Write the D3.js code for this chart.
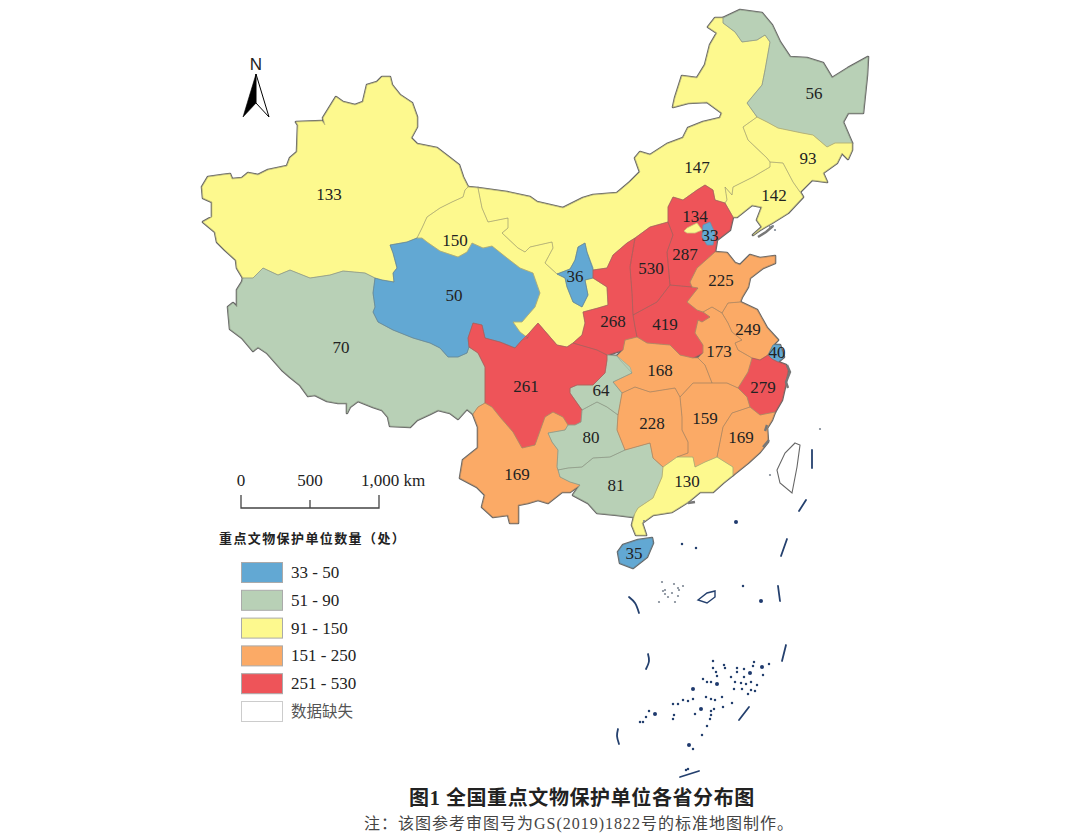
<!DOCTYPE html>
<html>
<head>
<meta charset="utf-8">
<title>全国重点文物保护单位各省分布图</title>
<script src="https://cdn.jsdelivr.net/npm/d3@7"></script>
<style>
  html, body { margin: 0; background: #fff; }
  svg { display: block; }
  text { font-family: "Liberation Serif", "Noto Sans CJK SC", serif; fill: #222; }
</style>
</head>
<body>
<div id="chart"></div>
<script>
// values per province
const provinceNames = ['新疆', '西藏', '青海', '甘肃', '内蒙古', '宁夏', '黑龙江', '吉林', '辽宁', '河北', '北京', '天津', '山西', '陕西', '河南', '山东', '江苏', '上海', '浙江', '安徽', '湖北', '重庆', '四川', '云南', '贵州', '广西', '湖南', '江西', '福建', '广东', '海南'];
const provinceValues = [133, 70, 50, 150, 147, 36, 56, 93, 142, 287, 134, 33, 530, 268, 419, 225, 249, 40, 279, 173, 168, 64, 261, 169, 80, 81, 228, 159, 169, 130, 35];

// legend classes
const classBreaks = [51, 91, 151, 251];
const classColors = ['#62a8d3', '#b8d0b6', '#fdf98e', '#fbaa66', '#ee5459'];
const classLabels = ['33 - 50', '51 - 90', '91 - 150', '151 - 250', '251 - 530', '数据缺失'];

const scaleBarTicks = [0, 500, 1000];

const xinjiang = [[382,77],[390,77],[392,85],[400,95],[412,103],[417,117],[417,127],[411,138],[417,144],[437,148],[450,158],[459,165],[463,177],[468,187],[465,190],[463,197],[452,202],[440,208],[427,217],[422,228],[417,238],[407,242],[390,245],[393,253],[397,268],[393,273],[394,282],[382,280],[375,278],[365,273],[343,271],[330,275],[310,278],[290,270],[278,275],[263,268],[253,278],[243,278],[237,268],[236,260],[225,250],[217,242],[215,232],[203,222],[212,217],[212,202],[203,198],[202,187],[208,177],[222,175],[230,174],[232,179],[242,178],[248,173],[258,175],[268,170],[287,166],[290,158],[297,152],[298,125],[296,122],[322,121],[325,125],[323,118],[336,97],[343,102],[355,105],[363,102],[367,85],[377,82]];
const xizang = [[243,278],[253,278],[263,268],[278,275],[290,270],[310,278],[330,275],[343,271],[365,273],[375,278],[373,293],[375,307],[373,312],[378,322],[393,330],[413,338],[430,343],[440,348],[448,357],[458,357],[467,353],[469,347],[478,353],[485,367],[485,403],[478,407],[473,414],[467,409],[458,419],[450,413],[438,410],[430,414],[417,420],[410,427],[390,426],[388,417],[382,410],[373,407],[358,401],[350,407],[347,413],[347,403],[338,403],[327,401],[315,395],[308,396],[300,385],[290,377],[282,370],[267,353],[258,347],[253,351],[242,338],[230,329],[228,307],[233,303],[237,307],[237,290],[242,282]];
const qinghai = [[390,245],[407,242],[417,238],[422,238],[427,242],[440,251],[458,257],[467,252],[472,243],[483,248],[492,246],[507,258],[520,268],[533,273],[540,293],[535,307],[528,315],[522,322],[513,322],[520,332],[528,338],[522,340],[515,348],[500,342],[485,338],[482,325],[473,323],[468,338],[469,347],[467,353],[458,357],[448,357],[440,348],[430,343],[413,338],[393,330],[378,322],[373,312],[375,307],[373,293],[375,278],[382,280],[394,282],[393,273],[397,268],[393,253]];
const gansu = [[468,187],[478,188],[482,208],[488,222],[508,218],[508,228],[502,233],[518,248],[525,252],[530,247],[552,242],[553,248],[545,263],[557,274],[565,278],[567,287],[573,302],[582,307],[588,295],[585,280],[593,278],[607,287],[608,305],[598,308],[583,312],[585,323],[582,335],[573,343],[567,347],[557,345],[538,323],[530,332],[528,338],[520,332],[513,322],[522,322],[528,315],[535,307],[540,293],[533,273],[520,268],[507,258],[492,246],[483,248],[472,243],[467,252],[458,257],[440,251],[427,242],[422,238],[417,238],[422,228],[427,217],[440,208],[452,202],[463,197],[465,190]];
const neimenggu = [[478,188],[507,192],[530,197],[537,202],[563,208],[583,198],[593,195],[617,193],[630,182],[640,172],[635,158],[640,152],[650,155],[667,144],[683,138],[688,128],[703,122],[720,118],[722,113],[707,102],[688,103],[673,107],[675,98],[682,76],[697,78],[705,65],[710,45],[717,33],[708,27],[715,18],[723,18],[723,23],[735,32],[742,42],[757,40],[765,35],[770,42],[765,70],[762,85],[747,103],[757,117],[743,127],[748,140],[767,158],[770,162],[770,167],[753,177],[733,187],[732,195],[725,187],[727,200],[725,203],[715,200],[713,190],[705,185],[697,190],[683,200],[673,197],[668,207],[668,222],[650,227],[635,238],[627,243],[613,255],[607,268],[593,270],[587,252],[585,243],[578,247],[575,260],[570,269],[557,274],[545,263],[553,248],[552,242],[530,247],[525,252],[518,248],[502,233],[508,228],[508,218],[488,222],[482,208]];
const ningxia = [[557,274],[570,269],[575,260],[578,247],[585,243],[587,252],[593,268],[593,278],[585,280],[588,295],[582,307],[573,302],[567,287],[565,278]];
const heilongjiang = [[723,18],[740,10],[762,13],[772,25],[780,42],[790,57],[807,58],[823,63],[832,78],[848,68],[868,57],[867,75],[863,113],[848,113],[843,122],[852,143],[835,143],[827,147],[813,135],[802,133],[778,128],[767,122],[757,117],[747,103],[762,85],[765,70],[770,42],[765,35],[757,40],[742,42],[735,32],[723,23]];
const jilin = [[757,117],[767,122],[778,128],[802,133],[813,135],[827,147],[835,143],[852,143],[852,150],[848,159],[842,153],[837,163],[823,173],[827,182],[812,180],[800,192],[793,182],[783,163],[770,162],[767,158],[748,140],[743,127]];
const liaoning = [[770,162],[783,163],[793,182],[800,192],[803,197],[788,213],[772,223],[760,230],[753,235],[762,227],[757,220],[762,207],[752,205],[737,217],[733,217],[725,203],[727,200],[725,187],[732,195],[733,187],[753,177],[770,167]];
const hebei = [[668,222],[668,207],[673,197],[683,200],[697,190],[705,185],[713,190],[715,200],[725,203],[733,217],[730,230],[717,240],[715,252],[697,268],[690,282],[692,287],[670,285],[667,252],[673,235]];
const beijing = [[687,228],[697,223],[702,230],[695,233],[687,233],[684,231]];
const tianjin = [[703,225],[710,222],[715,233],[713,245],[707,245],[702,237]];
const shanxi = [[650,227],[668,222],[673,235],[667,252],[670,285],[657,302],[633,315],[632,293],[630,267],[635,238]];
const shaanxi = [[593,270],[607,268],[613,255],[627,243],[635,238],[630,267],[632,293],[633,315],[635,327],[637,337],[625,340],[623,350],[607,355],[597,350],[573,343],[582,335],[585,323],[583,312],[598,308],[608,305],[607,287],[593,278]];
const henan = [[633,315],[657,302],[670,285],[692,287],[698,288],[687,302],[697,310],[703,312],[710,317],[702,322],[698,320],[695,333],[703,345],[703,353],[693,358],[680,355],[670,345],[647,343],[637,337],[635,327]];
const shandong = [[715,252],[727,253],[735,263],[740,265],[750,255],[760,258],[775,256],[775,263],[763,268],[750,278],[748,287],[742,297],[740,302],[728,303],[722,313],[712,307],[703,312],[697,310],[687,302],[698,288],[692,287],[690,282],[697,268]];
const jiangsu = [[740,302],[757,310],[767,328],[778,340],[773,345],[768,355],[760,360],[752,358],[738,350],[735,343],[742,340],[732,332],[728,323],[722,313],[728,303]];
const shanghai = [[773,345],[780,345],[784,357],[778,362],[772,359],[768,355]];
const zhejiang = [[752,358],[760,360],[768,355],[772,359],[778,362],[786,365],[788,370],[785,387],[782,400],[775,412],[760,415],[750,407],[747,397],[738,388],[748,372]];
const anhui = [[712,307],[722,313],[728,323],[732,332],[742,340],[735,343],[738,350],[752,358],[748,372],[738,388],[727,383],[712,383],[705,365],[698,358],[703,353],[703,345],[695,333],[698,320],[702,322],[710,317],[703,312]];
const hubei = [[637,337],[647,343],[670,345],[680,355],[693,358],[698,358],[705,365],[712,383],[693,383],[680,397],[675,388],[650,392],[635,387],[622,393],[613,382],[632,373],[620,360],[617,356],[623,350],[625,340]];
const chongqing = [[607,355],[617,356],[630,367],[632,373],[613,382],[622,393],[618,415],[607,407],[597,402],[582,410],[570,393],[570,388],[577,385],[593,385],[605,373],[607,360]];
const sichuan = [[469,347],[468,338],[473,323],[482,325],[485,338],[500,342],[515,348],[522,340],[530,332],[538,323],[557,345],[567,347],[573,343],[597,350],[607,355],[607,360],[605,373],[593,385],[577,385],[570,388],[570,393],[582,410],[581,422],[575,425],[568,425],[563,417],[553,412],[545,417],[535,445],[522,448],[513,432],[500,417],[492,407],[485,403],[485,367],[478,353]];
const yunnan = [[485,403],[492,407],[500,417],[513,432],[522,448],[535,445],[545,417],[553,412],[563,417],[568,425],[565,430],[548,433],[552,442],[558,450],[557,467],[558,470],[560,477],[570,482],[580,485],[570,492],[562,492],[548,503],[538,500],[528,503],[518,505],[518,523],[510,523],[508,515],[493,517],[482,507],[485,495],[477,487],[460,478],[463,460],[478,448],[478,427],[473,414],[478,407]];
const guizhou = [[548,433],[565,430],[568,425],[575,425],[581,422],[582,410],[597,402],[607,407],[618,415],[617,430],[625,450],[610,457],[593,458],[582,467],[568,468],[558,470],[557,467],[558,450],[552,442]];
const guangxi = [[558,470],[568,468],[582,467],[593,458],[610,457],[625,450],[650,443],[653,458],[663,467],[662,477],[653,498],[638,508],[633,517],[617,515],[597,513],[588,503],[573,495],[580,485],[570,482],[560,477]];
const hunan = [[622,393],[635,387],[650,392],[675,388],[680,397],[682,417],[682,430],[688,442],[688,453],[677,457],[670,462],[663,467],[653,458],[650,443],[625,450],[617,430],[618,415]];
const jiangxi = [[680,397],[693,383],[712,383],[727,383],[738,388],[747,397],[750,407],[732,413],[723,427],[717,457],[705,462],[695,467],[693,457],[677,457],[688,453],[688,442],[682,430],[682,417]];
const fujian = [[750,407],[760,415],[775,412],[772,420],[767,428],[768,442],[760,452],[748,463],[733,475],[733,467],[717,457],[723,427],[732,413]];
const guangdong = [[663,467],[670,462],[677,457],[693,457],[695,467],[705,462],[717,457],[733,467],[733,475],[723,483],[713,492],[700,492],[688,502],[672,512],[653,515],[642,523],[646,535],[636,535],[632,525],[635,513],[638,508],[653,498],[662,477]];
const hainan = [[618,552],[623,545],[638,540],[652,538],[653,543],[647,557],[633,568],[620,563]];
const provinceShapes = [xinjiang, xizang, qinghai, gansu, neimenggu, ningxia, heilongjiang, jilin, liaoning, hebei, beijing, tianjin, shanxi, shaanxi, henan, shandong, jiangsu, shanghai, zhejiang, anhui, hubei, chongqing, sichuan, yunnan, guizhou, guangxi, hunan, jiangxi, fujian, guangdong, hainan];
const labelPoints = [[329,194],[341,347],[454,295],[455,240],[697,167],[575,276],[814,93],[808,158],[774,195],[685,254],[695,216],[710,235],[651,268],[613,321],[665,324],[721,280],[748,329],[777,352],[763,387],[719,351],[660,370],[601,390],[526,386],[517,474],[591,437],[616,485],[652,423],[705,418],[741,437],[687,481],[634,553]];

// no data areas
const taiwan = [[795,443],[800,445],[797,467],[792,493],[780,483],[777,470],[785,453]];
const zhongshaIsland = [[698,600],[707,593],[715,591],[715,597],[707,603]];

// nine dash line and the islands of the south sea
const dashLines = [[[629,597],[635,603],[639,613]],[[648,654],[649,661],[646,669]],[[618,729],[617,736],[619,744]],[[680,777],[699,771]],[[739,720],[749,707]],[[782,661],[786,645]],[[780,601],[778,586]],[[781,556],[787,539]],[[799,511],[806,500]],[[812,450],[812,468]]];
const bigIslands = [[736,522],[761,601],[762,667],[717,684],[689,745],[750,673],[693,689],[655,714],[701,709]];
const smallIslands = [[682,544],[696,548],[743,586],[713,661],[724,665],[713,668],[716,672],[725,668],[754,662],[753,666],[769,664],[737,668],[737,672],[744,669],[763,675],[731,677],[744,677],[735,682],[741,683],[751,682],[746,684],[757,685],[734,689],[742,689],[751,690],[755,691],[748,694],[717,676],[707,682],[711,682],[703,679],[706,697],[711,699],[715,700],[722,697],[732,703],[723,707],[714,709],[711,711],[695,714],[693,699],[688,701],[683,700],[678,704],[673,704],[674,715],[673,719],[649,711],[646,717],[643,722],[640,722],[711,715],[710,719],[707,726],[702,735],[693,749],[686,770],[688,769]];
const xishaIslands = [[662,582],[674,584],[683,586],[665,590],[668,597],[679,590],[678,596],[672,593],[659,602],[675,602],[665,594],[663,591],[678,588],[644,521],[770,475],[820,429],[770,227],[775,230],[773,226]];
const coastMarks = [[[787,365],[790,372],[786,382],[788,388]],[[767,425],[765,431]],[[769,440],[763,447]],[[695,502],[688,503]],[[773,226],[766,232],[758,237]]];

const svg = d3.select('#chart').append('svg')
    .attr('width', 1080)
    .attr('height', 835);

const projection = d3.geoIdentity();
const path = d3.geoPath(projection);
const polygon = ring => ({ type: 'Polygon', coordinates: [ring.concat([ring[0]])] });

const color = d3.scaleThreshold()
    .domain(classBreaks)
    .range(classColors);

const provinces = provinceNames.map((name, i) => ({
    name: name,
    value: provinceValues[i],
    shape: polygon(provinceShapes[i]),
    label: labelPoints[i]
}));

// national outline: dark stroke below the fills, only its outer half stays visible
svg.append('g')
    .selectAll('path')
    .data(provinces)
    .enter().append('path')
    .attr('d', d => path(d.shape))
    .attr('fill', 'none')
    .attr('stroke', '#666')
    .attr('stroke-width', 2.6)
    .attr('stroke-linejoin', 'round');

svg.append('g')
    .selectAll('path')
    .data(provinces)
    .enter().append('path')
    .attr('d', d => path(d.shape))
    .attr('fill', d => color(d.value))
    .attr('stroke', d => color(d.value))
    .attr('stroke-width', 0.6);

// inner borders
svg.append('g')
    .selectAll('path')
    .data(provinces)
    .enter().append('path')
    .attr('d', d => path(d.shape))
    .attr('fill', 'none')
    .attr('stroke', 'rgba(110,110,100,0.32)')
    .attr('stroke-width', 0.8)
    .attr('stroke-linejoin', 'round');

svg.append('path')
    .attr('d', path(polygon(taiwan)))
    .attr('fill', '#fff')
    .attr('stroke', '#666')
    .attr('stroke-width', 1.1);

svg.append('path')
    .attr('d', path(polygon(zhongshaIsland)))
    .attr('fill', '#fff')
    .attr('stroke', '#24406e')
    .attr('stroke-width', 1.4);

svg.append('g')
    .selectAll('path')
    .data(coastMarks)
    .enter().append('path')
    .attr('d', d => path({ type: 'LineString', coordinates: d }))
    .attr('fill', 'none')
    .attr('stroke', '#777')
    .attr('stroke-width', 2.4);

svg.append('g')
    .selectAll('path')
    .data(dashLines)
    .enter().append('path')
    .attr('d', d3.line().curve(d3.curveCatmullRom))
    .attr('fill', 'none')
    .attr('stroke', '#24406e')
    .attr('stroke-width', 1.8)
    .attr('stroke-linecap', 'round');

function drawIslands(points, r, fill) {
    svg.append('g')
        .selectAll('circle')
        .data(points)
        .enter().append('circle')
        .attr('cx', d => projection(d)[0])
        .attr('cy', d => projection(d)[1])
        .attr('r', r)
        .attr('fill', fill);
}
drawIslands(bigIslands, 2, '#1f3a6e');
drawIslands(smallIslands, 1.25, '#24406e');
drawIslands(xishaIslands, 1.1, '#7f8794');

// value labels
svg.append('g')
    .selectAll('text')
    .data(provinces)
    .enter().append('text')
    .attr('x', d => projection(d.label)[0])
    .attr('y', d => projection(d.label)[1])
    .attr('dy', '0.34em')
    .attr('text-anchor', 'middle')
    .attr('font-size', 17)
    .text(d => d.value);

// north arrow
const north = svg.append('g');
north.append('text')
    .attr('x', 256)
    .attr('y', 70)
    .attr('text-anchor', 'middle')
    .attr('font-size', 17)
    .style('font-family', '"Liberation Sans", sans-serif')
    .text('N');
north.append('path')
    .attr('d', 'M256,74L243,117L256,103Z')
    .attr('fill', '#000')
    .attr('stroke', '#000')
    .attr('stroke-width', 0.6);
north.append('path')
    .attr('d', 'M256,74L269,117L256,103Z')
    .attr('fill', '#fff')
    .attr('stroke', '#000')
    .attr('stroke-width', 1);

// scale bar
const scaleBar = d3.scaleLinear().domain([0, 1000]).range([241, 379]);
const barY = 508;
svg.append('path')
    .attr('d', `M${scaleBar(0)},${barY - 13}V${barY}H${scaleBar(1000)}V${barY - 13}`)
    .attr('fill', 'none')
    .attr('stroke', '#444')
    .attr('stroke-width', 1.3);
svg.append('line')
    .attr('x1', scaleBar(500))
    .attr('x2', scaleBar(500))
    .attr('y1', barY - 8)
    .attr('y2', barY)
    .attr('stroke', '#444')
    .attr('stroke-width', 1.3);
svg.append('g')
    .selectAll('text')
    .data(scaleBarTicks)
    .enter().append('text')
    .attr('x', d => scaleBar(d) + (d === 1000 ? 14 : 0))
    .attr('y', 486)
    .attr('text-anchor', 'middle')
    .attr('font-size', 17)
    .text(d => d === 1000 ? '1,000 km' : d3.format(',')(d));

// legend
svg.append('text')
    .attr('x', 219)
    .attr('y', 543)
    .attr('font-size', 13)
    .attr('font-weight', 'bold')
    .attr('letter-spacing', 1.4)
    .text('重点文物保护单位数量（处）');

const legendY = d3.scalePoint()
    .domain(classLabels)
    .range([562, 701]);

const legendRow = svg.append('g')
    .selectAll('g')
    .data(classLabels)
    .enter().append('g')
    .attr('transform', d => `translate(241,${legendY(d)})`);

legendRow.append('rect')
    .attr('x', 0.5)
    .attr('y', 0.5)
    .attr('width', 41)
    .attr('height', 20)
    .attr('fill', (d, i) => classColors[i] || '#fff')
    .attr('stroke', (d, i) => classColors[i] ? '#aaa' : '#ccc')
    .attr('stroke-width', 1);

legendRow.append('text')
    .attr('x', 50)
    .attr('y', 16)
    .attr('font-size', (d, i) => classColors[i] ? 17 : 15.5)
    .style('fill', (d, i) => classColors[i] ? '#222' : '#555')
    .text(d => d);

// caption
svg.append('text')
    .attr('x', 582)
    .attr('y', 805)
    .attr('text-anchor', 'middle')
    .attr('font-size', 20)
    .attr('font-weight', 'bold')
    .attr('letter-spacing', 0.6)
    .text('图1  全国重点文物保护单位各省分布图');

svg.append('text')
    .attr('x', 579)
    .attr('y', 829)
    .attr('text-anchor', 'middle')
    .attr('font-size', 16)
    .attr('letter-spacing', 1)
    .style('fill', '#444')
    .text('注：该图参考审图号为GS(2019)1822号的标准地图制作。');
</script>
</body>
</html>
